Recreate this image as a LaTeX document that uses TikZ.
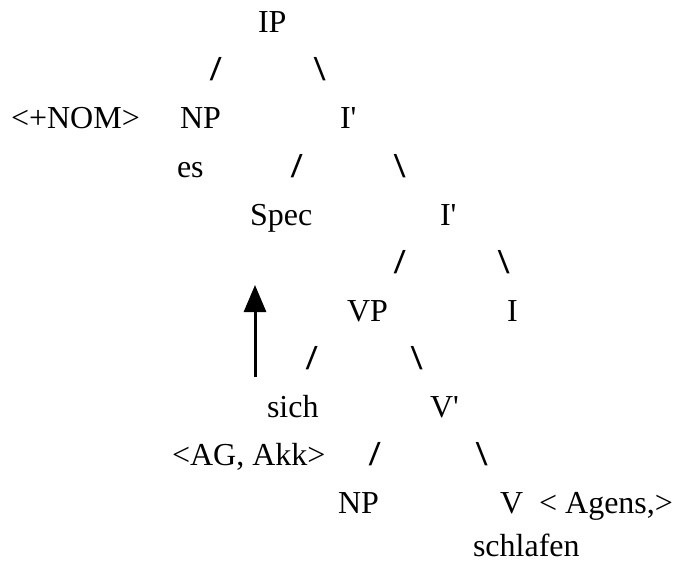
\documentclass[tikz,border=0pt]{standalone}
\usepackage{fontspec}
\setmainfont{Liberation Serif}
\usetikzlibrary{arrows.meta}
\newcommand{\fwd}{\scalebox{1.15}[1]{/}}
\newcommand{\bwd}{\scalebox{1.15}[1]{\textbackslash}}
\tikzset{
  lbl/.style={anchor=base west, inner sep=0pt, outer sep=0pt, font=\fontsize{32}{38}\selectfont},
  sl/.style={anchor=base west, inner sep=0pt, outer sep=0pt, font=\bfseries\fontsize{35}{40}\selectfont},
  movearrow/.style={line width=3pt, -{Triangle[length=27pt,width=22pt]}}
}
\begin{document}
\begin{tikzpicture}[x=1pt,y=-1pt]
\useasboundingbox (0,0) rectangle (676,564);
% row 1
\node[lbl] (ip) at (258,33) {IP};
\node[sl] (s1a) at (210,81) {\fwd};
\node[sl] (s1b) at (314,81) {\bwd};
% row 2
\node[lbl] (nom) at (11,129) {<+NOM>};
\node[lbl] (np1) at (180,129) {NP};
\node[lbl] (ib1) at (340,129) {I\textquotesingle};
% row 3
\node[lbl] (es) at (177,177) {es};
\node[sl] (s2a) at (291,177) {\fwd};
\node[sl] (s2b) at (394,177) {\bwd};
% row 4
\node[lbl] (spec) at (250,225) {Spec};
\node[lbl] (ib2) at (440,225) {I\textquotesingle};
\node[sl] (s3a) at (394,273) {\fwd};
\node[sl] (s3b) at (498,273) {\bwd};
% row 5
\node[lbl] (vp) at (347,321) {VP};
\node[lbl] (i) at (507,321) {I};
\node[sl] (s4a) at (306,369) {\fwd};
\node[sl] (s4b) at (411,369) {\bwd};
% row 6
\node[lbl] (sich) at (267,417) {sich};
\node[lbl] (vb) at (430,417) {V\textquotesingle};
\node[lbl] (ag) at (172,465) {<AG, Akk>};
\node[sl] (s5a) at (369,465) {\fwd};
\node[sl] (s5b) at (476,465) {\bwd};
% row 7
\node[lbl] (np2) at (338,513) {NP};
\node[lbl] (v) at (500,513) {V\ \ < Agens,>};
\node[lbl] (schlafen) at (473,556) {schlafen};
% movement arrow
\coordinate (arrfrom) at (255,377);
\coordinate (arrto) at (255,285);
\draw[movearrow] (arrfrom) -- (arrto);
\end{tikzpicture}
\end{document}
